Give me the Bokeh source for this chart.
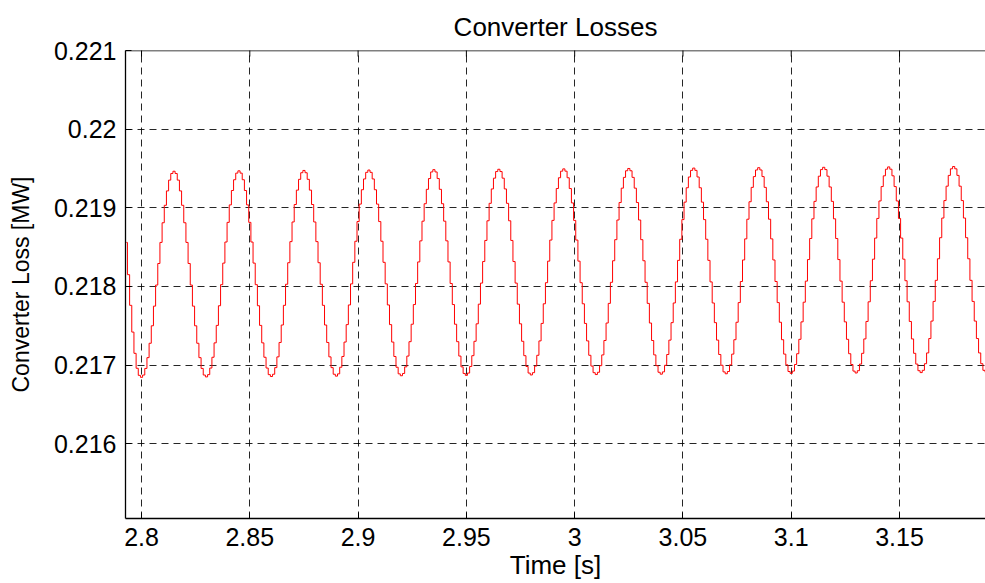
import math
from bokeh.plotting import figure
from bokeh.models import Range1d, FixedTicker, ColumnDataSource, Span
from bokeh.embed import file_html
from bokeh.resources import INLINE

# ---------------- data ----------------
t_start = 2.793       # s, first sample
t_step = 0.001        # s, sample interval of the stair-stepped signal

loss_mw = [
    0.218560, 0.218150, 0.217760, 0.217420, 0.217150, 0.216960, 0.216870,
    # cycle 1
    0.216845, 0.216874, 0.216958, 0.217095, 0.217278, 0.217500, 0.217750, 0.218018, 0.218292, 0.218560,
    0.218810, 0.219032, 0.219215, 0.219352, 0.219436, 0.219465, 0.219436, 0.219352, 0.219215, 0.219032,
    0.218810, 0.218560, 0.218292, 0.218018, 0.217750, 0.217500, 0.217278, 0.217095, 0.216958, 0.216874,
    # cycle 2
    0.216850, 0.216879, 0.216963, 0.217100, 0.217283, 0.217505, 0.217755, 0.218023, 0.218297, 0.218565,
    0.218815, 0.219037, 0.219220, 0.219357, 0.219441, 0.219470, 0.219441, 0.219357, 0.219220, 0.219037,
    0.218815, 0.218565, 0.218297, 0.218023, 0.217755, 0.217505, 0.217283, 0.217100, 0.216963, 0.216879,
    # cycle 3
    0.216855, 0.216884, 0.216968, 0.217105, 0.217288, 0.217510, 0.217760, 0.218028, 0.218302, 0.218570,
    0.218820, 0.219042, 0.219225, 0.219362, 0.219446, 0.219475, 0.219446, 0.219362, 0.219225, 0.219042,
    0.218820, 0.218570, 0.218302, 0.218028, 0.217760, 0.217510, 0.217288, 0.217105, 0.216968, 0.216884,
    # cycle 4
    0.216860, 0.216889, 0.216973, 0.217110, 0.217293, 0.217515, 0.217765, 0.218033, 0.218307, 0.218575,
    0.218825, 0.219047, 0.219230, 0.219367, 0.219451, 0.219480, 0.219451, 0.219367, 0.219230, 0.219047,
    0.218825, 0.218575, 0.218307, 0.218033, 0.217765, 0.217515, 0.217293, 0.217110, 0.216973, 0.216889,
    # cycle 5
    0.216865, 0.216894, 0.216978, 0.217115, 0.217298, 0.217520, 0.217770, 0.218038, 0.218312, 0.218580,
    0.218830, 0.219052, 0.219235, 0.219372, 0.219456, 0.219485, 0.219456, 0.219372, 0.219235, 0.219052,
    0.218830, 0.218580, 0.218312, 0.218038, 0.217770, 0.217520, 0.217298, 0.217115, 0.216978, 0.216894,
    # cycle 6
    0.216870, 0.216899, 0.216983, 0.217120, 0.217303, 0.217525, 0.217775, 0.218043, 0.218317, 0.218585,
    0.218835, 0.219057, 0.219240, 0.219377, 0.219461, 0.219490, 0.219461, 0.219377, 0.219240, 0.219057,
    0.218835, 0.218585, 0.218317, 0.218043, 0.217775, 0.217525, 0.217303, 0.217120, 0.216983, 0.216899,
    # cycle 7
    0.216875, 0.216904, 0.216988, 0.217125, 0.217308, 0.217530, 0.217780, 0.218048, 0.218322, 0.218590,
    0.218840, 0.219062, 0.219245, 0.219382, 0.219466, 0.219495, 0.219466, 0.219382, 0.219245, 0.219062,
    0.218840, 0.218590, 0.218322, 0.218048, 0.217780, 0.217530, 0.217308, 0.217125, 0.216988, 0.216904,
    # cycle 8
    0.216880, 0.216909, 0.216993, 0.217130, 0.217313, 0.217535, 0.217785, 0.218053, 0.218327, 0.218595,
    0.218845, 0.219067, 0.219250, 0.219387, 0.219471, 0.219500, 0.219471, 0.219387, 0.219250, 0.219067,
    0.218845, 0.218595, 0.218327, 0.218053, 0.217785, 0.217535, 0.217313, 0.217130, 0.216993, 0.216909,
    # cycle 9
    0.216885, 0.216914, 0.216998, 0.217135, 0.217318, 0.217540, 0.217790, 0.218058, 0.218332, 0.218600,
    0.218850, 0.219072, 0.219255, 0.219392, 0.219476, 0.219505, 0.219476, 0.219392, 0.219255, 0.219072,
    0.218850, 0.218600, 0.218332, 0.218058, 0.217790, 0.217540, 0.217318, 0.217135, 0.216998, 0.216914,
    # cycle 10
    0.216890, 0.216919, 0.217003, 0.217140, 0.217323, 0.217545, 0.217795, 0.218063, 0.218337, 0.218605,
    0.218855, 0.219077, 0.219260, 0.219397, 0.219481, 0.219510, 0.219481, 0.219397, 0.219260, 0.219077,
    0.218855, 0.218605, 0.218337, 0.218063, 0.217795, 0.217545, 0.217323, 0.217140, 0.217003, 0.216919,
    # cycle 11
    0.216895, 0.216924, 0.217008, 0.217145, 0.217328, 0.217550, 0.217800, 0.218068, 0.218342, 0.218610,
    0.218860, 0.219082, 0.219265, 0.219402, 0.219486, 0.219515, 0.219486, 0.219402, 0.219265, 0.219082,
    0.218860, 0.218610, 0.218342, 0.218068, 0.217800, 0.217550, 0.217328, 0.217145, 0.217008, 0.216924,
    # cycle 12
    0.216900, 0.216929, 0.217013, 0.217150, 0.217333, 0.217555, 0.217805, 0.218073, 0.218347, 0.218615,
    0.218865, 0.219087, 0.219270, 0.219407, 0.219491, 0.219520, 0.219491, 0.219407, 0.219270, 0.219087,
    0.218865, 0.218615, 0.218347, 0.218073, 0.217805, 0.217555, 0.217333, 0.217150, 0.217013, 0.216929,
    # cycle 13
    0.216905, 0.216934, 0.217018, 0.217155, 0.217338, 0.217560, 0.217810, 0.218078, 0.218352, 0.218620,
    0.218870, 0.219092, 0.219275, 0.219412, 0.219496, 0.219525, 0.219496, 0.219412, 0.219275, 0.219092,
    0.218870, 0.218620, 0.218352, 0.218078, 0.217810, 0.217560, 0.217338, 0.217155, 0.217018, 0.216934,
    0.216910,
]

x_ticks = [2.8, 2.85, 2.9, 2.95, 3.0, 3.05, 3.1, 3.15]
x_tick_labels = ["2.8", "2.85", "2.9", "2.95", "3", "3.05", "3.1", "3.15"]
y_ticks = [0.216, 0.217, 0.218, 0.219, 0.22, 0.221]
y_tick_labels = ["0.216", "0.217", "0.218", "0.219", "0.22", "0.221"]

title_text = "Converter Losses"
x_label = "Time [s]"
y_label = "Converter Loss [MW]"

# ---------------- figure ----------------
time_s = [t_start + i * t_step for i in range(len(loss_mw))]
src = ColumnDataSource(data=dict(t=time_s, loss=loss_mw))

FONT = "Liberation Sans"
X0, X1 = 2.7926, 3.1897
Y0, Y1 = 0.21505, 0.221

p = figure(
    width=985, height=583,
    output_backend="svg", toolbar_location=None,
    x_range=Range1d(X0, X1), y_range=Range1d(Y0, Y1),
    min_border_left=125, min_border_right=0, min_border_top=48, min_border_bottom=65,
    title=title_text,
)
p.background_fill_color = "white"
p.border_fill_color = "white"
p.outline_line_color = None

p.title.align = "center"
p.title.text_font = FONT
p.title.text_font_size = "26px"
p.title.text_font_style = "normal"
p.title.text_color = "black"
p.title.standoff = 18

xt = FixedTicker(ticks=x_ticks)
yt = FixedTicker(ticks=y_ticks)

for ax, tk, labs in ((p.xaxis[0], xt, x_tick_labels), (p.yaxis[0], yt, y_tick_labels)):
    ax.ticker = tk
    ax.major_label_overrides = dict(zip(tk.ticks, labs))
    ax.major_tick_in = 6
    ax.major_tick_out = 0
    ax.minor_tick_line_color = None
    ax.axis_line_color = "black"
    ax.axis_line_width = 1.3
    ax.major_tick_line_color = "black"
    ax.major_label_text_font = FONT
    ax.major_label_text_font_size = "25px"
    ax.major_label_text_color = "black"
    ax.axis_label_text_font = FONT
    ax.axis_label_text_font_style = "normal"
    ax.axis_label_text_color = "black"

p.xaxis[0].axis_label = x_label
p.xaxis[0].axis_label_text_font_size = "26px"
p.xaxis[0].major_label_standoff = 9
p.xaxis[0].axis_label_standoff = 1
p.yaxis[0].axis_label = y_label
p.yaxis[0].axis_label_text_font_size = "23px"
p.yaxis[0].major_label_standoff = 9
p.yaxis[0].axis_label_standoff = 17

# top box edge with inward tick marks (MATLAB style box)
p.add_layout(Span(location=Y1, dimension="width", line_color="black", line_width=1.3))
p.scatter(x=x_ticks, y=[Y1] * len(x_ticks), marker="dash", angle=math.pi / 2,
          size=12, line_color="black", line_width=1)

for g, tk in ((p.xgrid[0], xt), (p.ygrid[0], yt)):
    g.ticker = tk
    g.grid_line_color = "black"
    g.grid_line_alpha = 0.85
    g.grid_line_dash = "7 5"
    g.grid_line_width = 1

p.step(x="t", y="loss", source=src, mode="center", line_color="#ff0000", line_width=1)

open("out.html", "w").write(file_html(p, INLINE))
